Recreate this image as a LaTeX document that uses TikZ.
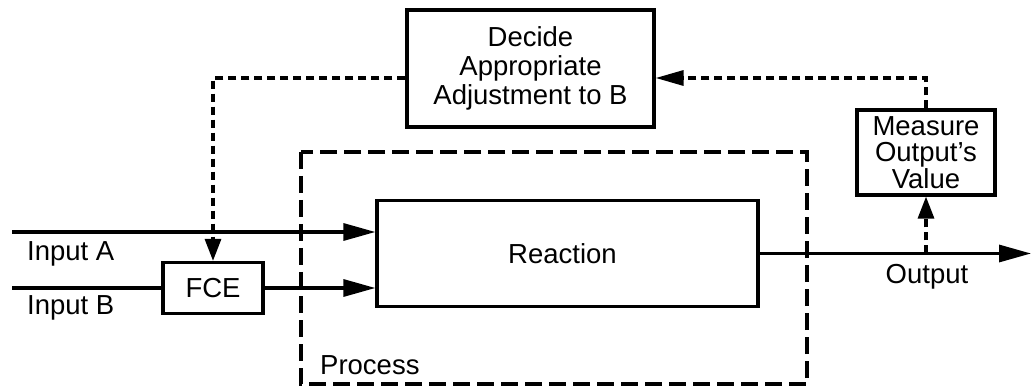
\documentclass[tikz,border=0pt]{standalone}
\usepackage{fontspec}
\setmainfont{Liberation Sans}
\usetikzlibrary{arrows.meta}
\tikzset{
  box/.style={draw, line width=3.2pt, rectangle, align=center, inner sep=0pt,
    font=\fontsize{27.5}{29}\selectfont},
  lbl/.style={font=\fontsize{27.5}{29}\selectfont, inner sep=0pt},
  flow/.style={line width=3.2pt, -{Triangle[length=32pt,width=17pt]}},
  fb/.style={line width=3.2pt, dash pattern=on 8pt off 5pt},
  fbarrow/.style={fb, -{Triangle[length=22pt,width=16pt]}},
  procbox/.style={line width=3.2pt, dash pattern=on 17pt off 7pt}
}
\begin{document}
\begin{tikzpicture}[x=1pt,y=-1pt]
\useasboundingbox (0,0) rectangle (1031,390);
% nodes
\node[box, minimum width=247pt, minimum height=117pt] (decide) at (530.5,68.5)
  {Decide\\Appropriate\\Adjustment to B};
\node[box, minimum width=138pt, minimum height=85pt, font=\fontsize{27.5}{26.5}\selectfont] (measure) at (926,152.5)
  {Measure\\Output's\\Value};
\node[box, minimum width=100pt, minimum height=51pt] (fce) at (213,288) {FCE};
\node[box, minimum width=381pt, minimum height=106pt] (reaction) at (567.5,253.5) {\hspace*{-10pt}Reaction};
\draw[procbox] (301,152) rectangle (807,384);
\node[lbl, anchor=west] (process) at (320,365) {Process};
\node[lbl, anchor=west] (inAlbl) at (27,254) {Input A};
\node[lbl, anchor=west] (inBlbl) at (27,308) {Input B};
\node[lbl] (outlbl) at (927,277) {Output};
% coordinates
\coordinate (inA) at (12,232);
\coordinate (inB) at (12,288);
\coordinate (out) at (1031,253.5);
\coordinate (fy) at (0,78);
% connectors
\draw[flow] (inA) -- (inA -| reaction.west);
\draw[line width=3.2pt] (inB) -- (fce.west);
\draw[flow] (fce.east) -- (fce.east -| reaction.west);
\draw[flow] (reaction.east) -- (out);
\draw[fbarrow] (measure.south |- out) -- (measure.south);
\draw[fbarrow, -{Triangle[length=28pt,width=15pt]}] (measure.north) |- (fy -| decide.east);
\draw[fbarrow] (fy -| decide.west) -| (fce.north);
\end{tikzpicture}
\end{document}
